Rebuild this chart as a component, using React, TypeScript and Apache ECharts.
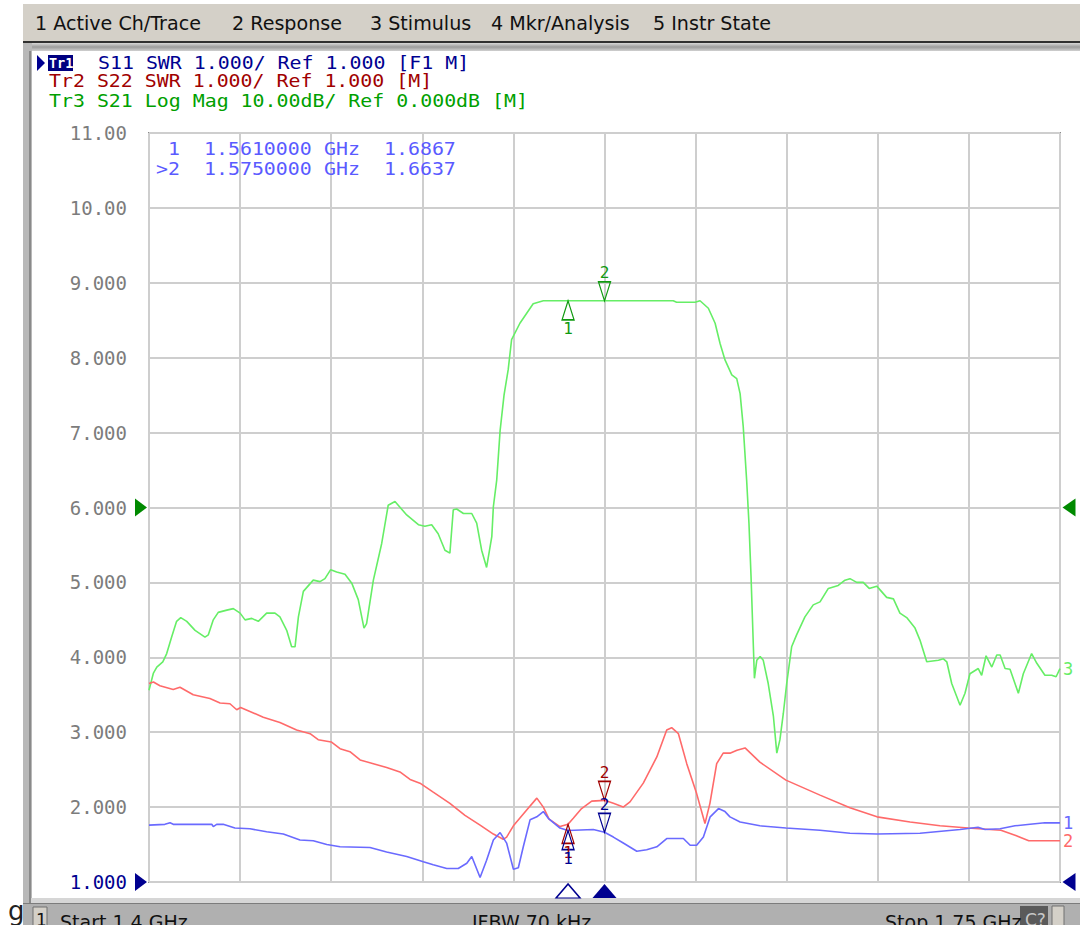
import React, { useEffect, useRef } from "react";
import * as echarts from "echarts";

// ---------- texts ----------
const MENU_ITEMS = ["1 Active Ch/Trace", "2 Response", "3 Stimulus", "4 Mkr/Analysis", "5 Instr State"];
const MENU_X = [35, 232, 370, 491, 653];

const HEADER_TR1 = "S11 SWR 1.000/ Ref 1.000 [F1 M]";
const HEADER_TR2 = "Tr2 S22 SWR 1.000/ Ref 1.000 [M]";
const HEADER_TR3 = "Tr3 S21 Log Mag 10.00dB/ Ref 0.000dB [M]";

const STATUS_ITEMS = ["Start 1.4 GHz", "IFBW 70 kHz", "Stop 1.75 GHz"];
const STATUS_X = [60, 472, 885];

// ---------- axes ----------
const START_MHZ = 1400;
const STOP_MHZ = 1750;
const DIV_MHZ = 35;
const SWR_MIN = 1;
const SWR_MAX = 11;
const DB_MIN = -50;
const DB_MAX = 50;

// ---------- markers ----------
const MARKER_FREQ = [1561, 1575];
const MARKER_NAMES = ["1", ">2"];

// ---------- Tr3 S21 (dB) ----------
const S21_FREQ = [
  1400.0, 1401.7, 1403.0, 1405.3, 1406.8, 1408.7, 1410.6, 1412.2, 1414.5, 1417.7,
  1421.5, 1422.8, 1424.7, 1426.6, 1429.9, 1432.4, 1435.0, 1436.9, 1439.5, 1442.0,
  1445.2, 1448.4, 1450.3, 1452.9, 1454.8, 1456.1, 1457.4, 1459.3, 1463.1, 1465.7,
  1467.6, 1469.8, 1472.1, 1475.3, 1477.9, 1480.4, 1482.6, 1483.6, 1486.2, 1489.4,
  1491.9, 1494.5, 1499.0, 1503.5, 1506.0, 1508.6, 1511.1, 1513.7, 1515.6, 1516.9,
  1518.2, 1520.8, 1524.0, 1525.9, 1527.8, 1529.7, 1531.7, 1532.3, 1533.6, 1534.9,
  1536.4, 1538.0, 1539.3, 1542.5, 1547.6, 1551.5, 1561.0, 1575.0, 1601.4, 1602.7,
  1609.8, 1611.7, 1614.9, 1617.5, 1619.4, 1621.3, 1623.9, 1625.8, 1627.1, 1628.3,
  1629.6, 1630.5, 1631.3, 1632.2, 1632.6, 1633.5, 1634.8, 1636.0, 1637.9, 1639.9,
  1641.2, 1642.4, 1643.7, 1645.0, 1646.9, 1648.8, 1652.0, 1655.2, 1657.8, 1661.0,
  1664.8, 1667.4, 1669.3, 1671.9, 1674.4, 1676.7, 1679.6, 1683.4, 1686.0, 1688.5,
  1691.1, 1694.3, 1696.2, 1698.8, 1703.3, 1705.2, 1706.5, 1708.4, 1711.6, 1713.5,
  1715.4, 1718.6, 1719.9, 1721.6, 1723.8, 1725.7, 1727.0, 1728.9, 1730.8, 1734.0,
  1735.9, 1739.1, 1741.1, 1744.2, 1746.8, 1748.5, 1750.0,
];
const S21_DB = [
  -24.4, -22.1, -21.3, -20.6, -19.5, -17.3, -15.2, -14.7, -15.2, -16.4,
  -17.3, -17.0, -15.0, -14.0, -13.7, -13.5, -14.1, -15.0, -14.8, -15.2,
  -14.1, -14.1, -14.6, -16.4, -18.6, -18.6, -14.6, -11.2, -9.7, -9.9,
  -9.5, -8.3, -8.6, -8.9, -10.1, -12.3, -16.1, -15.5, -9.7, -4.8,
  0.3, 0.8, -1.0, -2.3, -2.5, -2.3, -3.5, -5.7, -6.1, -0.3,
  -0.2, -0.8, -0.8, -2.1, -5.7, -8.0, -3.9, 0.1, 3.7, 10.3,
  15.0, 18.4, 22.4, 24.6, 27.2, 27.6, 27.6, 27.6, 27.6, 27.4,
  27.4, 27.6, 26.6, 24.6, 21.9, 19.7, 17.7, 17.2, 15.2, 10.8,
  3.7, -2.1, -9.2, -18.6, -22.8, -20.4, -19.9, -20.4, -23.5, -27.9,
  -32.8, -31.0, -27.5, -23.5, -18.6, -17.0, -14.6, -13.0, -12.6, -10.8,
  -10.4, -9.7, -9.5, -10.0, -10.0, -10.8, -10.5, -12.0, -12.2, -14.1,
  -14.7, -16.1, -17.7, -20.6, -20.4, -20.2, -20.6, -23.5, -26.4, -24.8,
  -22.2, -21.5, -22.4, -19.8, -21.3, -19.7, -19.7, -21.5, -21.6, -24.8,
  -22.2, -19.5, -20.8, -22.4, -22.4, -22.6, -21.5,
];

// ---------- Tr2 S22 (SWR) ----------
const S22_FREQ = [
  1400.0, 1401.7, 1404.2, 1409.3, 1411.9, 1417.0, 1423.4, 1427.3, 1431.1, 1433.7,
  1435.2, 1443.9, 1450.3, 1456.7, 1461.9, 1465.0, 1470.0, 1473.4, 1477.2, 1481.1,
  1486.2, 1491.3, 1496.4, 1500.3, 1504.1, 1509.2, 1515.6, 1521.4, 1527.2, 1532.3,
  1536.1, 1537.4, 1540.0, 1545.1, 1549.0, 1551.5, 1553.7, 1557.9, 1561.0, 1563.0,
  1566.2, 1570.1, 1575.0, 1578.4, 1582.2, 1584.8, 1589.9, 1595.1, 1598.9, 1600.8,
  1603.4, 1606.6, 1610.4, 1613.6, 1615.5, 1618.1, 1620.6, 1623.2, 1625.9, 1629.0,
  1634.7, 1644.7, 1657.8, 1669.3, 1679.7, 1692.4, 1703.9, 1714.7, 1727.3, 1733.0,
  1738.0, 1750.0,
];
const S22_SWR = [
  3.65, 3.67, 3.62, 3.57, 3.60, 3.50, 3.45, 3.39, 3.38, 3.30,
  3.33, 3.20, 3.13, 3.03, 2.98, 2.90, 2.87, 2.78, 2.74, 2.63,
  2.58, 2.53, 2.47, 2.37, 2.32, 2.20, 2.05, 1.89, 1.76, 1.64,
  1.57, 1.60, 1.75, 1.96, 2.12, 2.00, 1.84, 1.74, 1.77, 1.85,
  1.98, 2.08, 2.09, 2.05, 2.00, 2.07, 2.32, 2.67, 3.03, 3.06,
  2.98, 2.58, 2.18, 1.78, 2.05, 2.58, 2.72, 2.72, 2.76, 2.79,
  2.60, 2.36, 2.16, 1.99, 1.87, 1.80, 1.75, 1.72, 1.69, 1.62,
  1.55, 1.55,
];

// ---------- Tr1 S11 (SWR) ----------
const S11_FREQ = [
  1400.0, 1406.1, 1408.1, 1409.3, 1424.1, 1424.7, 1426.0, 1428.5, 1433.0, 1438.8,
  1445.2, 1451.6, 1458.0, 1463.1, 1468.3, 1473.4, 1484.9, 1491.3, 1499.0, 1505.4,
  1509.2, 1514.4, 1518.8, 1522.1, 1524.0, 1527.2, 1529.7, 1532.3, 1534.9, 1537.4,
  1540.0, 1541.9, 1543.8, 1546.4, 1549.0, 1551.5, 1553.4, 1557.9, 1561.0, 1570.7,
  1575.0, 1578.4, 1582.2, 1587.4, 1591.2, 1595.1, 1598.9, 1605.3, 1607.9, 1610.4,
  1613.0, 1615.6, 1618.8, 1621.3, 1623.2, 1627.1, 1634.7, 1644.7, 1657.8, 1669.3,
  1679.7, 1696.2, 1711.6, 1718.5, 1721.2, 1727.0, 1732.7, 1738.5, 1744.2, 1750.0,
];
const S11_SWR = [
  1.76, 1.77, 1.79, 1.77, 1.77, 1.74, 1.77, 1.77, 1.72, 1.71,
  1.67, 1.64, 1.56, 1.55, 1.50, 1.47, 1.46, 1.40, 1.34, 1.27,
  1.23, 1.18, 1.18, 1.25, 1.34, 1.06, 1.29, 1.56, 1.66, 1.52,
  1.17, 1.19, 1.47, 1.83, 1.87, 1.94, 1.85, 1.72, 1.6867, 1.70,
  1.6637, 1.60, 1.52, 1.41, 1.43, 1.47, 1.58, 1.58, 1.49, 1.49,
  1.60, 1.87, 1.98, 1.94, 1.87, 1.80, 1.75, 1.72, 1.69, 1.65,
  1.64, 1.65, 1.70, 1.73, 1.70, 1.71, 1.75, 1.77, 1.79, 1.79,
];

// ---------- styling ----------
const MONO = '"DejaVu Sans Mono", monospace';
const SANS = '"DejaVu Sans", sans-serif';
const BLUE_LINE = "#6a6aff";
const RED_LINE = "#ff6a6a";
const GREEN_LINE = "#66ee66";
const BLUE_DARK = "#000090";
const RED_DARK = "#a00000";
const GREEN_DARK = "#00a000";
const MONO_SCALE = 1.17;

const zip = (f: number[], v: number[]) => f.map((x, i) => [x, v[i]]);
const valueAt = (f: number[], v: number[], freq: number) => v[f.indexOf(freq)];

function text(x: number, y: number, t: string, fill: string, family: string, size: number, scaleX = 1, weight = "normal") {
  return {
    type: "text",
    x,
    y,
    scaleX,
    silent: true,
    z: 100,
    style: {
      text: t,
      fill,
      fontFamily: family,
      fontSize: size,
      fontWeight: weight,
      verticalAlign: "middle",
      textVerticalAlign: "middle",
    },
  };
}

const UP_TRI = "path://M6,0L12,20L0,20Z";
const DOWN_TRI = "path://M0,0L12,0L6,20Z";
const RIGHT_TRI = "path://M0,0L10,8L0,16Z";
const LEFT_TRI = "path://M10,0L0,8L10,16Z";

function traceMarkers(f: number[], v: number[], dark: string) {
  return [
    {
      coord: [MARKER_FREQ[0], valueAt(f, v, MARKER_FREQ[0])],
      symbol: UP_TRI,
      symbolSize: [12, 19],
      symbolOffset: [0, 9.5],
      itemStyle: { color: "rgba(255,255,255,0)", borderColor: dark, borderWidth: 1.4 },
      label: { show: true, formatter: "1", position: "bottom", distance: 0, color: dark, fontFamily: MONO, fontSize: 16 },
    },
    {
      coord: [MARKER_FREQ[1], valueAt(f, v, MARKER_FREQ[1])],
      symbol: DOWN_TRI,
      symbolSize: [12, 19],
      symbolOffset: [0, -9.5],
      itemStyle: { color: "rgba(255,255,255,0)", borderColor: dark, borderWidth: 1.4 },
      label: { show: true, formatter: "2", position: "top", distance: 0, color: dark, fontFamily: MONO, fontSize: 16 },
    },
  ];
}

function buildOption() {
  const graphic: any[] = [];
  // menu bar
  graphic.push({ type: "rect", shape: { x: 23, y: 4, width: 1057, height: 38 }, style: { fill: "#d4d0c8" }, silent: true });
  graphic.push({ type: "rect", shape: { x: 23, y: 41, width: 1057, height: 2 }, style: { fill: "#303030" }, silent: true });
  graphic.push({
    type: "rect",
    shape: { x: 23, y: 43, width: 1057, height: 8 },
    style: {
      fill: new echarts.graphic.LinearGradient(0, 0, 0, 1, [
        { offset: 0, color: "#d8d8d8" },
        { offset: 0.5, color: "#9c9c9c" },
        { offset: 1, color: "#d0d0d0" },
      ]),
    },
    silent: true,
  });
  MENU_ITEMS.forEach((m, i) => graphic.push(text(MENU_X[i], 23, m, "#111", SANS, 19.5, 0.98)));
  // left frame border
  graphic.push({ type: "rect", shape: { x: 23, y: 43, width: 9, height: 862 }, style: { fill: "#b8b8b8" }, silent: true });
  graphic.push({ type: "rect", shape: { x: 29, y: 51, width: 2, height: 852 }, style: { fill: "#8a8a8a" }, silent: true });
  // bottom strip + status bar
  graphic.push({ type: "rect", shape: { x: 31, y: 898, width: 1049, height: 5 }, style: { fill: "#d6d6d6" }, silent: true });
  graphic.push({ type: "rect", shape: { x: 23, y: 903, width: 1057, height: 22 }, style: { fill: "#b0b0b0" }, silent: true });
  graphic.push({ type: "rect", shape: { x: 23, y: 903, width: 1057, height: 1 }, style: { fill: "#7c7c7c" }, silent: true });
  graphic.push({ type: "rect", shape: { x: 33, y: 907, width: 14, height: 20 }, style: { fill: "#d4d0c8", stroke: "#707070", lineWidth: 1 }, silent: true });
  graphic.push(text(36, 920, "1", "#111", SANS, 17));
  STATUS_ITEMS.forEach((s, i) => graphic.push(text(STATUS_X[i], 922, s, "#111", SANS, 19)));
  graphic.push({ type: "rect", shape: { x: 1020, y: 906, width: 28, height: 20 }, style: { fill: "#5a5a5a" }, silent: true });
  graphic.push(text(1025, 920, "C?", "#c8c8c8", SANS, 17));
  graphic.push({ type: "rect", shape: { x: 1052, y: 906, width: 12, height: 20 }, style: { fill: "#d4d0c8", stroke: "#707070", lineWidth: 1 }, silent: true });
  graphic.push(text(8, 911, "g", "#222", SANS, 26));

  // trace headers
  graphic.push({ type: "polygon", shape: { points: [[37, 55], [45, 63], [37, 71]] }, style: { fill: BLUE_DARK }, silent: true });
  graphic.push({ type: "rect", shape: { x: 48, y: 55, width: 25, height: 16 }, style: { fill: "#000080" }, silent: true });
  graphic.push(text(49, 63, "Tr1", "#ffffff", MONO, 14, 0.96, "bold"));
  graphic.push(text(98, 63, HEADER_TR1, BLUE_DARK, MONO, 17, MONO_SCALE));
  graphic.push(text(49, 81, HEADER_TR2, RED_DARK, MONO, 17, MONO_SCALE));
  graphic.push(text(49, 101, HEADER_TR3, GREEN_DARK, MONO, 17, MONO_SCALE));

  // marker readout table (Tr1)
  const readColor = "#5a5aff";
  MARKER_FREQ.forEach((f, i) => {
    const y = 149 + i * 20;
    const name = MARKER_NAMES[i];
    graphic.push(text(180 - name.length * 12, y, name, readColor, MONO, 17, MONO_SCALE));
    graphic.push(text(204, y, (f / 1000).toFixed(7), readColor, MONO, 17, MONO_SCALE));
    graphic.push(text(324, y, "GHz", readColor, MONO, 17, MONO_SCALE));
    graphic.push(text(384, y, valueAt(S11_FREQ, S11_SWR, f).toFixed(4), readColor, MONO, 17, MONO_SCALE));
  });

  const s21Marks = traceMarkers(S21_FREQ, S21_DB, "#109a10").concat([
    { coord: [START_MHZ, 0], symbol: RIGHT_TRI, symbolSize: [12, 18], symbolOffset: [-8, 0], itemStyle: { color: "#008a00" }, label: { show: false } } as any,
    { coord: [STOP_MHZ, 0], symbol: LEFT_TRI, symbolSize: [13, 18], symbolOffset: [9, 0], itemStyle: { color: "#008a00" }, label: { show: false } } as any,
  ]);
  const s22Marks = traceMarkers(S22_FREQ, S22_SWR, RED_DARK);
  const s11Marks = traceMarkers(S11_FREQ, S11_SWR, BLUE_DARK).concat([
    { coord: [START_MHZ, SWR_MIN], symbol: RIGHT_TRI, symbolSize: [12, 18], symbolOffset: [-8, 0], itemStyle: { color: BLUE_DARK }, label: { show: false } } as any,
    { coord: [STOP_MHZ, SWR_MIN], symbol: LEFT_TRI, symbolSize: [13, 18], symbolOffset: [9, 0], itemStyle: { color: BLUE_DARK }, label: { show: false } } as any,
    {
      coord: [MARKER_FREQ[0], SWR_MIN],
      symbol: "path://M12,0L24,14L0,14Z",
      symbolSize: [24, 14],
      symbolOffset: [0, 9],
      itemStyle: { color: "rgba(255,255,255,0)", borderColor: BLUE_DARK, borderWidth: 1.4 },
      label: { show: false },
    } as any,
    {
      coord: [MARKER_FREQ[1], SWR_MIN],
      symbol: "path://M12,0L24,14L0,14Z",
      symbolSize: [24, 14],
      symbolOffset: [0, 9],
      itemStyle: { color: BLUE_DARK },
      label: { show: false },
    } as any,
  ]);

  const lineSeries = (name: string, data: number[][], color: string, yAxisIndex: number, end: string, marks: any[]) => ({
    type: "line",
    name,
    data,
    yAxisIndex,
    showSymbol: false,
    symbol: "none",
    clip: false,
    lineStyle: { color, width: 1.6 },
    itemStyle: { color },
    endLabel: { show: true, formatter: end, color, fontFamily: MONO, fontSize: 17, distance: 3 },
    markPoint: { silent: true, animation: false, data: marks },
    z: 3,
  });

  return {
    animation: false,
    backgroundColor: "#ffffff",
    grid: {
      left: 149,
      top: 133,
      width: 911,
      height: 749,
      show: true,
      backgroundColor: "#ffffff",
      borderColor: "#8a8a8a",
      borderWidth: 2,
    },
    xAxis: {
      type: "value",
      min: START_MHZ,
      max: STOP_MHZ,
      interval: DIV_MHZ,
      axisLine: { show: false },
      axisTick: { show: false },
      axisLabel: { show: false },
      splitLine: { show: true, lineStyle: { color: "#cecece", width: 2 } },
    },
    yAxis: [
      {
        type: "value",
        min: SWR_MIN,
        max: SWR_MAX,
        interval: 1,
        axisLine: { show: false },
        axisTick: { show: false },
        splitLine: { show: true, lineStyle: { color: "#cecece", width: 2 } },
        axisLabel: {
          margin: 22,
          fontFamily: MONO,
          fontSize: 19,
          color: (v: any) => (Number(v) === SWR_MIN ? BLUE_DARK : "#7c7c7c"),
          formatter: (v: number) => (v >= 10 ? v.toFixed(2) : v.toFixed(3)),
        },
      },
      {
        type: "value",
        min: DB_MIN,
        max: DB_MAX,
        interval: 10,
        show: false,
        splitLine: { show: false },
      },
    ],
    series: [
      lineSeries("Tr3 S21", zip(S21_FREQ, S21_DB), GREEN_LINE, 1, "3", s21Marks),
      lineSeries("Tr2 S22", zip(S22_FREQ, S22_SWR), RED_LINE, 0, "2", s22Marks),
      lineSeries("Tr1 S11", zip(S11_FREQ, S11_SWR), BLUE_LINE, 0, "1", s11Marks),
    ],
    graphic,
  };
}

export default function App() {
  const ref = useRef<HTMLDivElement>(null);
  useEffect(() => {
    const el = ref.current;
    if (!el) return;
    const chart = echarts.init(el, undefined, { renderer: "svg" });
    chart.setOption(buildOption() as any);
    return () => chart.dispose();
  }, []);
  return (
    <div
      ref={ref}
      style={{ position: "absolute", left: 0, top: 0, width: 1080, height: 925, background: "#ffffff", overflow: "hidden" }}
    />
  );
}
